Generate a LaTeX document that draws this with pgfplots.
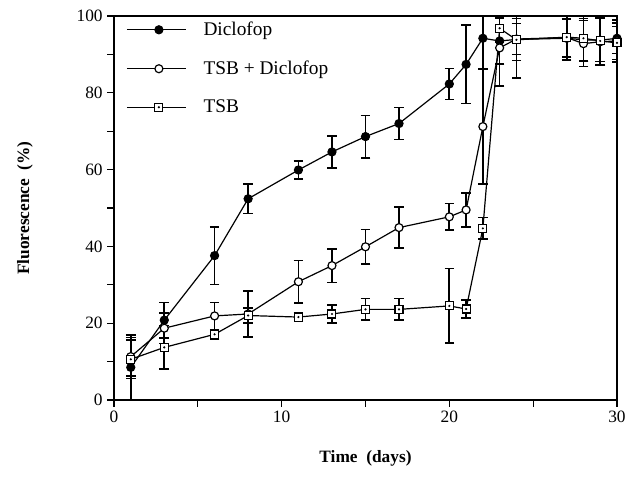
\documentclass[border=0pt]{standalone}
\usepackage{fontspec}
\setmainfont{Liberation Serif}
\usepackage{pgfplots}
\pgfplotsset{compat=1.18}
\usepackage{pgfplotstable}

% x  y  err
\pgfplotstableread{
x y e
1 8.5 8.5
3 20.8 4.6
6 37.6 7.5
8 52.4 3.8
11 59.9 2.3
13 64.6 4.2
15 68.6 5.5
17 72.0 4.2
20 82.3 4.0
21 87.4 10.2
22 94.2 8.0
23 93.5 6.0
24 93.9 5.5
27 94.2 5.0
28 93.8 5.5
29 93.7 5.6
30 94.2 4.0
}\diclofop

\pgfplotstableread{
x y e
1 11.3 5.0
3 18.7 4.0
6 21.9 3.5
8 22.4 6.0
11 30.8 5.5
13 35.0 4.4
15 39.9 4.5
17 44.9 5.3
20 47.7 3.5
21 49.5 4.4
22 71.2 15.0
23 91.7 10.0
24 94.0 4.0
27 94.4 5.0
28 92.8 6.0
29 93.3 6.0
30 93.5 5.5
}\tsbdic

\pgfplotstableread{
x y e
1 10.6 5.0
3 13.7 5.7
6 17.1 1.2
8 22.0 2.0
11 21.6 1.0
13 22.4 2.3
15 23.6 2.8
17 23.6 2.8
20 24.5 9.7
21 23.7 2.4
22 44.7 2.8
23 96.8 3.5
24 93.8 10.0
27 94.5 6.0
28 94.2 6.0
29 93.5 6.2
30 93.0 4.3
}\tsb

\pgfdeclareplotmark{sqdot}{%
  \pgfpathrectangle{\pgfqpoint{-\pgfplotmarksize}{-\pgfplotmarksize}}{\pgfqpoint{2\pgfplotmarksize}{2\pgfplotmarksize}}%
  \pgfusepathqfillstroke
  \begin{pgfscope}%
  \pgfsetfillcolor{black}%
  \pgfpathcircle{\pgfpointorigin}{0.3\pgfplotmarksize}%
  \pgfusepathqfill
  \end{pgfscope}%
}

\pgfplotsset{
  errs/.style={error bars/.cd, y dir=both, y explicit,
    error bar style={line width=1.3pt, black, solid},
    error mark options={rotate=90, mark size=3.6pt, line width=1.2pt, black}},
}

\begin{document}
\begin{tikzpicture}
\begin{axis}[
    scale only axis,
    width=377.25pt, height=288pt,
    xmin=0, xmax=30, ymin=0, ymax=100,
    xtick={0,10,20,30}, minor xtick={5,15,25},
    ytick={0,20,40,60,80,100}, minor ytick={10,30,50,70,90},
    xtick pos=bottom, ytick pos=left,
    tick align=outside,
    major tick length=5pt, minor tick length=5pt,
    every tick/.style={black, line width=0.9pt},
    axis line style={line width=1pt},
    font=\fontsize{13}{15}\selectfont,
    /pgf/number format/assume math mode=true,
    xlabel={\textbf{Time\ \ (days)}},
    ylabel={\textbf{Fluorescence\ \ (\%)}},
    xlabel style={at={(axis description cs:0.5,-0.151)}, anchor=center},
    ylabel style={at={(axis description cs:-0.177,0.5)}, anchor=center},
    legend cell align=left,
    legend style={draw=none, fill=none, at={(axis description cs:0.016,0.999)}, anchor=north west,
        row sep=13.5pt, font=\fontsize{14.5}{16}\selectfont},
    legend image code/.code={\draw[mark repeat=2,mark phase=2,#1] plot coordinates {(0pt,0pt) (24pt,0pt) (44pt,0pt)};
        \path (55pt,0pt);},
]
\addplot[black, line width=0.9pt, mark=*, mark size=3pt, mark options={fill=black, solid}, errs]
    table[x=x, y=y, y error=e] {\diclofop};
\addlegendentry{Diclofop}
\addplot[black, line width=0.9pt, mark=*, mark size=3pt, mark options={fill=white, solid}, errs]
    table[x=x, y=y, y error=e] {\tsbdic};
\addlegendentry{TSB + Diclofop}
\addplot[black, line width=0.9pt, mark=sqdot, mark size=3pt, mark options={fill=white, solid, line width=0.8pt}, errs]
    table[x=x, y=y, y error=e] {\tsb};
\addlegendentry{TSB}
\end{axis}
\pgfresetboundingbox
\path (-85.5pt,-57pt) rectangle (386.25pt,300pt);
\end{tikzpicture}
\end{document}
